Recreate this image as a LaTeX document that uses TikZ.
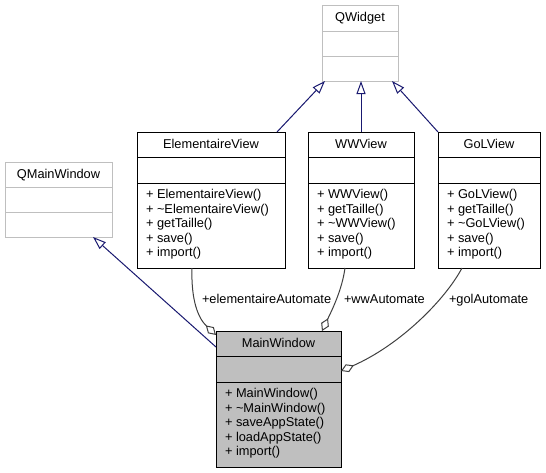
\documentclass[tikz,border=0pt]{standalone}
\usepackage{fontspec}
\setmainfont{Liberation Sans}
\usetikzlibrary{arrows.meta,calc}
\definecolor{inhblue}{HTML}{191970}
\definecolor{agggray}{HTML}{404040}
\definecolor{extgray}{HTML}{BFBFBF}
\definecolor{mainfill}{HTML}{BFBFBF}
\begin{document}
\begin{tikzpicture}[x=1pt,y=-1pt,
  every node/.style={font=\fontsize{12.8}{14.5}\selectfont, inner sep=0pt, outer sep=0pt},
  box/.style={draw=black, line width=1pt, fill=white, anchor=north west},
  extbox/.style={box, draw=extgray},
  sepline/.style={line width=1pt, draw=black},
  extsep/.style={line width=1pt, draw=extgray},
  titletext/.style={anchor=base},
  member/.style={anchor=base west},
  inh/.style={draw=inhblue, line width=1pt, -{Triangle[open, length=13pt, width=9pt]}},
  agg/.style={draw=agggray, line width=1pt, -{Diamond[open, length=14pt, width=8.5pt]}},
  lbl/.style={anchor=base west},
]
\useasboundingbox (0,0) rectangle (546,472);
\fill[white] (0,0) rectangle (546,472);

% QWidget
\node[extbox, minimum width=76pt, minimum height=76pt] (qw) at (322,5) {};
\draw[extsep] ($(qw.north west)+(0,26)$) -- ($(qw.north east)+(0,26)$);
\draw[extsep] ($(qw.north west)+(0,51)$) -- ($(qw.north east)+(0,51)$);
\node[titletext] (qw-t) at ($(qw.north)+(0,16.8)$) {QWidget};

% QMainWindow
\node[extbox, minimum width=107pt, minimum height=75pt] (qmw) at (5,162) {};
\draw[extsep] ($(qmw.north west)+(0,25)$) -- ($(qmw.north east)+(0,25)$);
\draw[extsep] ($(qmw.north west)+(0,50)$) -- ($(qmw.north east)+(0,50)$);
\node[titletext] (qmw-t) at ($(qmw.north)+(0,16.5)$) {QMainWindow};

% ElementaireView
\node[box, minimum width=148pt, minimum height=136pt] (ev) at (137,132) {};
\draw[sepline] ($(ev.north west)+(0,25.5)$) -- ($(ev.north east)+(0,25.5)$);
\draw[sepline] ($(ev.north west)+(0,51)$) -- ($(ev.north east)+(0,51)$);
\node[titletext] (ev-t) at ($(ev.north)+(0,16.8)$) {ElementaireView};
\foreach \txt [count=\i] in {{+ ElementaireView()},{+ \textasciitilde ElementaireView()},{+ getTaille()},{+ save()},{+ import()}}
  \node[member] (ev-m\i) at ($(ev.north west)+(9,{66.8+(\i-1)*14.5})$) {\txt};

% WWView
\node[box, minimum width=106pt, minimum height=136pt] (ww) at (308,132) {};
\draw[sepline] ($(ww.north west)+(0,25.5)$) -- ($(ww.north east)+(0,25.5)$);
\draw[sepline] ($(ww.north west)+(0,51)$) -- ($(ww.north east)+(0,51)$);
\node[titletext] (ww-t) at ($(ww.north)+(0,16.8)$) {WWView};
\foreach \txt [count=\i] in {{+ WWView()},{+ getTaille()},{+ \textasciitilde WWView()},{+ save()},{+ import()}}
  \node[member] (ww-m\i) at ($(ww.north west)+(9,{66.8+(\i-1)*14.5})$) {\txt};

% GoLView
\node[box, minimum width=102pt, minimum height=136pt] (gv) at (438,132) {};
\draw[sepline] ($(gv.north west)+(0,25.5)$) -- ($(gv.north east)+(0,25.5)$);
\draw[sepline] ($(gv.north west)+(0,51)$) -- ($(gv.north east)+(0,51)$);
\node[titletext] (gv-t) at ($(gv.north)+(0,16.8)$) {GoLView};
\foreach \txt [count=\i] in {{+ GoLView()},{+ getTaille()},{+ \textasciitilde GoLView()},{+ save()},{+ import()}}
  \node[member] (gv-m\i) at ($(gv.north west)+(9,{66.8+(\i-1)*14.5})$) {\txt};

% MainWindow
\node[box, fill=mainfill, minimum width=125pt, minimum height=136pt] (mw) at (216,331) {};
\draw[sepline] ($(mw.north west)+(0,25.5)$) -- ($(mw.north east)+(0,25.5)$);
\draw[sepline] ($(mw.north west)+(0,51)$) -- ($(mw.north east)+(0,51)$);
\node[titletext] (mw-t) at ($(mw.north)+(0,16.8)$) {MainWindow};
\foreach \txt [count=\i] in {{+ MainWindow()},{+ \textasciitilde MainWindow()},{+ saveAppState()},{+ loadAppState()},{+ import()}}
  \node[member] (mw-m\i) at ($(mw.north west)+(9,{66.8+(\i-1)*14.5})$) {\txt};

% inheritance
\draw[inh] ($(ev.north west)+(140,0)$) -- ($(qw.south west)+(3,0)$);
\draw[inh] (ww.north) -- (ww.north |- qw.south);
\draw[inh] (gv.north west) -- ($(qw.south east)+(-6,0)$);
\draw[inh] ($(mw.north west)+(0,16)$) -- ($(qmw.south west)+(88,0)$);

% aggregation
\draw[agg] ($(ev.south west)+(55,0)$) .. controls +(-1,32) and +(-18,-17) .. ($(mw.north west)+(0,4)$);
\draw[agg] ($(ww.south west)+(37,0)$) .. controls +(-3,22) and +(10,-21) .. ($(mw.north west)+(106,0)$);
\draw[agg] ($(gv.south west)+(24,0)$) .. controls +(-17,32) and +(59,-26) .. ($(mw.north east)+(0,40)$);

% labels
\node[lbl] (lab-ev) at (202,303) {+elementaireAutomate};
\node[lbl] (lab-ww) at (344,303) {+wwAutomate};
\node[lbl] (lab-gv) at (449,303) {+golAutomate};
\end{tikzpicture}
\end{document}
